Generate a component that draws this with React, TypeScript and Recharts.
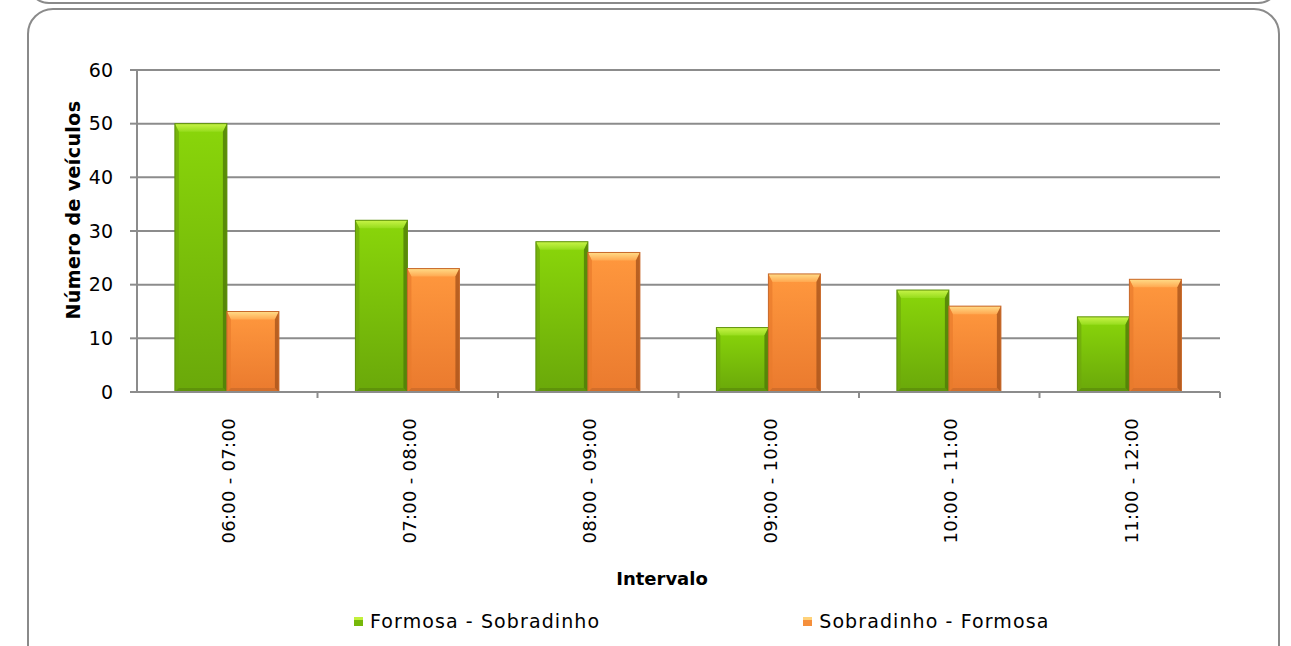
import React from "react";
import { Bar, BarChart, CartesianGrid, Label, Legend, XAxis, YAxis } from "recharts";

const intervals = ["06:00 - 07:00", "07:00 - 08:00", "08:00 - 09:00", "09:00 - 10:00", "10:00 - 11:00", "11:00 - 12:00"];
const formosaSobradinho = [50, 32, 28, 12, 19, 14];
const sobradinhoFormosa = [15, 23, 26, 22, 16, 21];
const yTicks = [0, 10, 20, 30, 40, 50, 60];

const data = intervals.map((name, i) => ({
  name,
  fs: formosaSobradinho[i],
  sf: sobradinhoFormosa[i],
}));

const FONT = "'DejaVu Sans', sans-serif";
const GRID = "#8c8c8c";

const palette: Record<string, { top: string; left: string; right: string; bottom: string; edge: string; swatch: string }> = {
  green: { top: "#c2f03c", left: "#6ea60c", right: "#4f7a08", bottom: "#5a8a0a", edge: "#5d8f0a", swatch: "#76b80a" },
  orange: { top: "#ffd27a", left: "#e87a2c", right: "#a9541c", bottom: "#c8692a", edge: "#c8692a", swatch: "#f58f3c" },
};

function BevelBar(props: any) {
  const { x, y, width, height, tone } = props;
  if (!height || height <= 0) return null;
  const c = palette[tone];
  const t = Math.min(8, height / 2);
  const s = 4;
  return (
    <g>
      <rect x={x} y={y} width={width} height={height} fill={`url(#body-${tone})`} />
      <polygon points={`${x},${y} ${x + width},${y} ${x + width - s},${y + t} ${x + s},${y + t}`} fill={`url(#top-${tone})`} />
      <polygon points={`${x},${y} ${x + s},${y + t} ${x + s},${y + height - s} ${x},${y + height}`} fill={c.left} opacity={0.7} />
      <polygon points={`${x + width},${y} ${x + width - s},${y + t} ${x + width - s},${y + height - s} ${x + width},${y + height}`} fill={c.right} opacity={0.8} />
      <polygon points={`${x},${y + height} ${x + s},${y + height - s} ${x + width - s},${y + height - s} ${x + width},${y + height}`} fill={c.bottom} opacity={0.7} />
      <rect x={x} y={y} width={width} height={height} fill="none" stroke={c.edge} strokeWidth={1} />
    </g>
  );
}

function IntervalTick(props: any) {
  const { x, y, payload, index, width, visibleTicksCount } = props;
  const band = width / visibleTicksCount;
  return (
    <g>
      {index > 0 && <line x1={x - band / 2} x2={x - band / 2} y1={y - 8} y2={y - 2} stroke={GRID} strokeWidth={2} />}
      {index === visibleTicksCount - 1 && <line x1={x + band / 2} x2={x + band / 2} y1={y - 8} y2={y - 2} stroke={GRID} strokeWidth={2} />}
      <text
        x={x + 8}
        y={y + 18}
        transform={`rotate(-90, ${x + 8}, ${y + 18})`}
        textAnchor="end"
        fontFamily={FONT}
        fontSize={18}
        letterSpacing={0.3}
        fill="#000"
      >
        {payload.value}
      </text>
    </g>
  );
}

function LegendContent(props: any) {
  const { payload } = props;
  return (
    <div style={{ display: "flex", gap: 203, marginLeft: 354, fontFamily: FONT, fontSize: 19, letterSpacing: 1.1, color: "#000" }}>
      {payload.map((p: any) => (
        <div key={p.value} style={{ display: "flex", alignItems: "center" }}>
          <span
            style={{
              display: "inline-block",
              width: 9,
              height: 9,
              marginRight: 7,
              background: palette[p.payload.tone].swatch,
              boxShadow: `inset 0 3px 0 ${palette[p.payload.tone].top}`,
            }}
          />
          {p.value}
        </div>
      ))}
    </div>
  );
}

export default function App() {
  return (
    <div style={{ position: "absolute", left: 0, top: 0, width: 1291, height: 646, background: "#fff", overflow: "hidden" }}>
      <div
        style={{
          position: "absolute",
          left: 27,
          top: -40,
          width: 1249,
          height: 40,
          border: "2px solid #8a8a8a",
          borderRadius: 22,
        }}
      />
      <div
        style={{
          position: "absolute",
          left: 27,
          top: 8,
          width: 1249,
          height: 700,
          border: "2px solid #8a8a8a",
          borderRadius: 26,
        }}
      />
      <div style={{ position: "absolute", left: 0, top: 0 }}>
        <BarChart
          width={1291}
          height={646}
          data={data}
          margin={{ top: 70, right: 71, bottom: 0, left: 0 }}
          barCategoryGap="21%"
          barGap={0}
        >
          <defs>
            <linearGradient id="body-green" x1="0" y1="0" x2="0" y2="1">
              <stop offset="0" stopColor="#8ad60a" />
              <stop offset="1" stopColor="#6aa80a" />
            </linearGradient>
            <linearGradient id="top-green" x1="0" y1="0" x2="0" y2="1">
              <stop offset="0" stopColor="#c8f448" />
              <stop offset="1" stopColor="#96dc1c" />
            </linearGradient>
            <linearGradient id="body-orange" x1="0" y1="0" x2="0" y2="1">
              <stop offset="0" stopColor="#ff983e" />
              <stop offset="1" stopColor="#ea7a2e" />
            </linearGradient>
            <linearGradient id="top-orange" x1="0" y1="0" x2="0" y2="1">
              <stop offset="0" stopColor="#ffdc88" />
              <stop offset="1" stopColor="#ffa850" />
            </linearGradient>
          </defs>
          <CartesianGrid vertical={false} stroke={GRID} strokeWidth={2} />
          <XAxis
            dataKey="name"
            height={254}
            stroke={GRID}
            strokeWidth={2}
            tickLine={false}
            interval={0}
            tick={<IntervalTick />}
          >
            <Label
              content={() => (
                <text x={662} y={585} textAnchor="middle" fontFamily={FONT} fontSize={18} fontWeight="bold" fill="#000">
                  Intervalo
                </text>
              )}
            />
          </XAxis>
          <YAxis
            width={137}
            domain={[0, 60]}
            ticks={yTicks}
            interval={0}
            stroke={GRID}
            strokeWidth={2}
            tickSize={7}
            tickMargin={17}
            tick={{ fontFamily: FONT, fontSize: 19, fill: "#000" }}
          >
            <Label
              content={() => (
                <text
                  x={80}
                  y={210}
                  transform="rotate(-90, 80, 210)"
                  textAnchor="middle"
                  fontFamily={FONT}
                  fontSize={19}
                  fontWeight="bold"
                  letterSpacing={0.4}
                  fill="#000"
                >
                  Número de veículos
                </text>
              )}
            />
          </YAxis>
          <Legend
            layout="horizontal"
            verticalAlign="middle"
            align="center"
            wrapperStyle={{ top: 610, left: 0, width: 1291 }}
            content={<LegendContent />}
          />
          <Bar dataKey="fs" name="Formosa - Sobradinho" fill="#76b80a" tone="green" shape={<BevelBar tone="green" />} isAnimationActive={false} />
          <Bar dataKey="sf" name="Sobradinho - Formosa" fill="#f58f3c" tone="orange" shape={<BevelBar tone="orange" />} isAnimationActive={false} />
        </BarChart>
      </div>
    </div>
  );
}
